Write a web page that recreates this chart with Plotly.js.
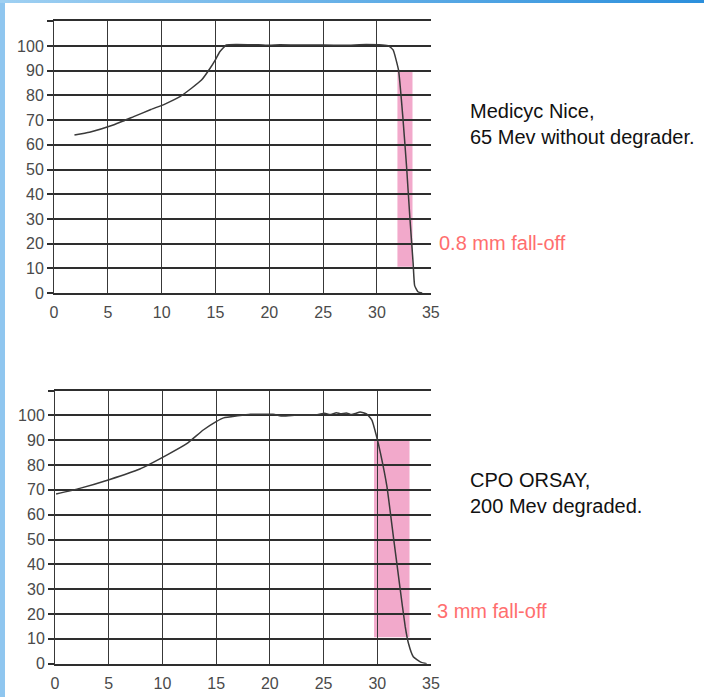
<!DOCTYPE html>
<html>
<head>
<meta charset="utf-8">
<script src="https://cdn.plot.ly/plotly-3.0.1.min.js"></script>
<style>
  html, body { margin: 0; padding: 0; background: #ffffff; }
  #wrap { position: relative; width: 704px; height: 697px; overflow: hidden; }
  #chart { position: absolute; left: 0; top: 0; width: 704px; height: 697px; }
  #bl { position: absolute; left: 0; top: 0; width: 5px; height: 697px; background: #8fc6ef; pointer-events: none; }
  #bt { position: absolute; left: 0; top: 0; width: 704px; height: 3px; background: linear-gradient(to right, #9fd0f2, #2b8fdc); pointer-events: none; }
</style>
</head>
<body>
<div id="wrap">
  <div id="chart"></div>
  <div id="bl"></div>
  <div id="bt"></div>
</div>
<script>
// ---- Data ----
// Depth (mm) and relative dose (%) - Medicyc Nice, 65 MeV without degrader
const niceDepth = [1.9, 3.3, 5.5, 7.4, 9.0, 10.3, 11.7, 12.8, 13.7, 14.5, 15.0, 15.4, 16.0, 17.0, 19.0, 20.0, 21.0, 23.0, 25.0, 27.0, 29.0, 30.5, 31.1, 31.5, 32.0, 32.4, 32.75, 33.05, 33.36, 33.5, 33.8, 34.2];
const niceDose  = [64.0, 65.1, 68.0, 71.4, 74.3, 76.5, 79.5, 83.0, 86.2, 91.0, 94.5, 97.7, 100.4, 100.6, 100.5, 100.3, 100.5, 100.4, 100.4, 100.3, 100.6, 100.4, 100.0, 98.4, 90.3, 71.4, 51.1, 30.9, 12.0, 3.0, 0.5, 0.0];

// Depth (mm) and relative dose (%) - CPO Orsay, 200 MeV degraded
const orsayDepth = [0.1, 2.3, 5.1, 7.9, 10.4, 12.3, 13.8, 15.0, 15.7, 17.0, 18.2, 20.3, 21.2, 22.5, 24.4, 25.1, 25.6, 26.2, 26.6, 27.1, 27.6, 28.0, 28.4, 29.0, 29.5, 29.9, 30.3, 30.9, 31.5, 32.1, 32.6, 32.9, 33.35, 34.1, 34.6];
const orsayDose  = [68.3, 70.6, 74.2, 78.4, 84.0, 88.7, 94.1, 97.5, 99.0, 99.8, 100.4, 100.4, 99.7, 100.1, 100.2, 100.9, 100.3, 101.1, 100.6, 101.0, 100.3, 100.8, 101.4, 100.6, 98.1, 92.1, 84.7, 71.3, 51.1, 31.0, 14.9, 8.2, 2.8, 0.5, 0.0];

// Fall-off bands [x0, x1, y0, y1]
const niceBand  = [31.9, 33.3, 10.6, 90];
const orsayBand = [29.7, 33.0, 10.6, 90];

// Axis ticks
const xTicks = [0, 5, 10, 15, 20, 25, 30, 35];
const yTicks = [0, 10, 20, 30, 40, 50, 60, 70, 80, 90, 100, 110];
const yTickText = ['0', '10', '20', '30', '40', '50', '60', '70', '80', '90', '100', ''];

// Labels
const niceLabel  = 'Medicyc Nice,<br>65 Mev without degrader.';
const orsayLabel = 'CPO ORSAY,<br>200 Mev degraded.';
const niceFall   = '0.8 mm fall-off';
const orsayFall  = '3 mm fall-off';

// ---- Styles ----
const lineColor = '#3a3a3a';
const gridColor = '#2e2e2e';
const tickFont = { family: 'Liberation Sans, Arial, sans-serif', size: 16, color: '#4a4a4a' };
const pink = '#f2a9cb';
const salmon = '#ff6e6e';

const traces = [
  { x: niceDepth, y: niceDose, xaxis: 'x', yaxis: 'y', type: 'scatter', mode: 'lines',
    line: { color: lineColor, width: 1.5, shape: 'spline', smoothing: 0.4 }, hoverinfo: 'x+y' },
  { x: orsayDepth, y: orsayDose, xaxis: 'x2', yaxis: 'y2', type: 'scatter', mode: 'lines',
    line: { color: lineColor, width: 1.5, shape: 'spline', smoothing: 0.4 }, hoverinfo: 'x+y' }
];

function xAxis(domain, anchor) {
  return {
    domain: domain, anchor: anchor, range: [0, 35], fixedrange: true,
    tickmode: 'array', tickvals: xTicks, ticks: '', showgrid: true,
    gridcolor: '#383838', gridwidth: 1, zeroline: false,
    showline: true, linecolor: gridColor, linewidth: 2, mirror: true,
    ticklabelstandoff: 4,
    tickfont: tickFont
  };
}
function yAxis(domain, anchor) {
  return {
    domain: domain, anchor: anchor, range: [0, 110], fixedrange: true,
    tickmode: 'array', tickvals: yTicks, ticktext: yTickText,
    ticks: 'outside', ticklen: 6, tickwidth: 2, tickcolor: gridColor,
    showgrid: true, gridcolor: gridColor, gridwidth: 2, zeroline: false,
    showline: true, linecolor: '#383838', linewidth: 1, mirror: false,
    tickfont: tickFont
  };
}

const textFont = { family: 'Liberation Sans, Arial, sans-serif', size: 20, color: '#111111' };
const redFont  = { family: 'Liberation Sans, Arial, sans-serif', size: 20, color: salmon };

const layout = {
  width: 704, height: 697,
  margin: { l: 0, r: 0, t: 0, b: 0 },
  paper_bgcolor: '#ffffff', plot_bgcolor: '#ffffff',
  showlegend: false,
  xaxis:  xAxis([54 / 704, 430.8 / 704], 'y'),
  yaxis:  yAxis([0.5796, 0.9694], 'x'),
  xaxis2: xAxis([55 / 704, 431 / 704], 'y2'),
  yaxis2: yAxis([0.0478, 0.4397], 'x2'),
  shapes: [
    { type: 'rect', xref: 'x', yref: 'y', x0: niceBand[0], x1: niceBand[1], y0: niceBand[2], y1: niceBand[3],
      fillcolor: pink, line: { width: 0 }, layer: 'below' },
    { type: 'rect', xref: 'x2', yref: 'y2', x0: orsayBand[0], x1: orsayBand[1], y0: orsayBand[2], y1: orsayBand[3],
      fillcolor: pink, line: { width: 0 }, layer: 'below' }
  ],
  annotations: [
    { text: niceLabel, xref: 'paper', yref: 'paper', x: 468 / 704, y: 0.8214, xanchor: 'left', yanchor: 'middle',
      align: 'left', showarrow: false, font: textFont },
    { text: orsayLabel, xref: 'paper', yref: 'paper', x: 468 / 704, y: 0.2934, xanchor: 'left', yanchor: 'middle',
      align: 'left', showarrow: false, font: textFont },
    { text: niceFall, xref: 'paper', yref: 'paper', x: 437 / 704, y: 0.6514, xanchor: 'left', yanchor: 'middle',
      align: 'left', showarrow: false, font: redFont },
    { text: orsayFall, xref: 'paper', yref: 'paper', x: 435 / 704, y: 0.1238, xanchor: 'left', yanchor: 'middle',
      align: 'left', showarrow: false, font: redFont }
  ]
};

Plotly.newPlot('chart', traces, layout, { displayModeBar: false, staticPlot: true });
</script>
</body>
</html>
